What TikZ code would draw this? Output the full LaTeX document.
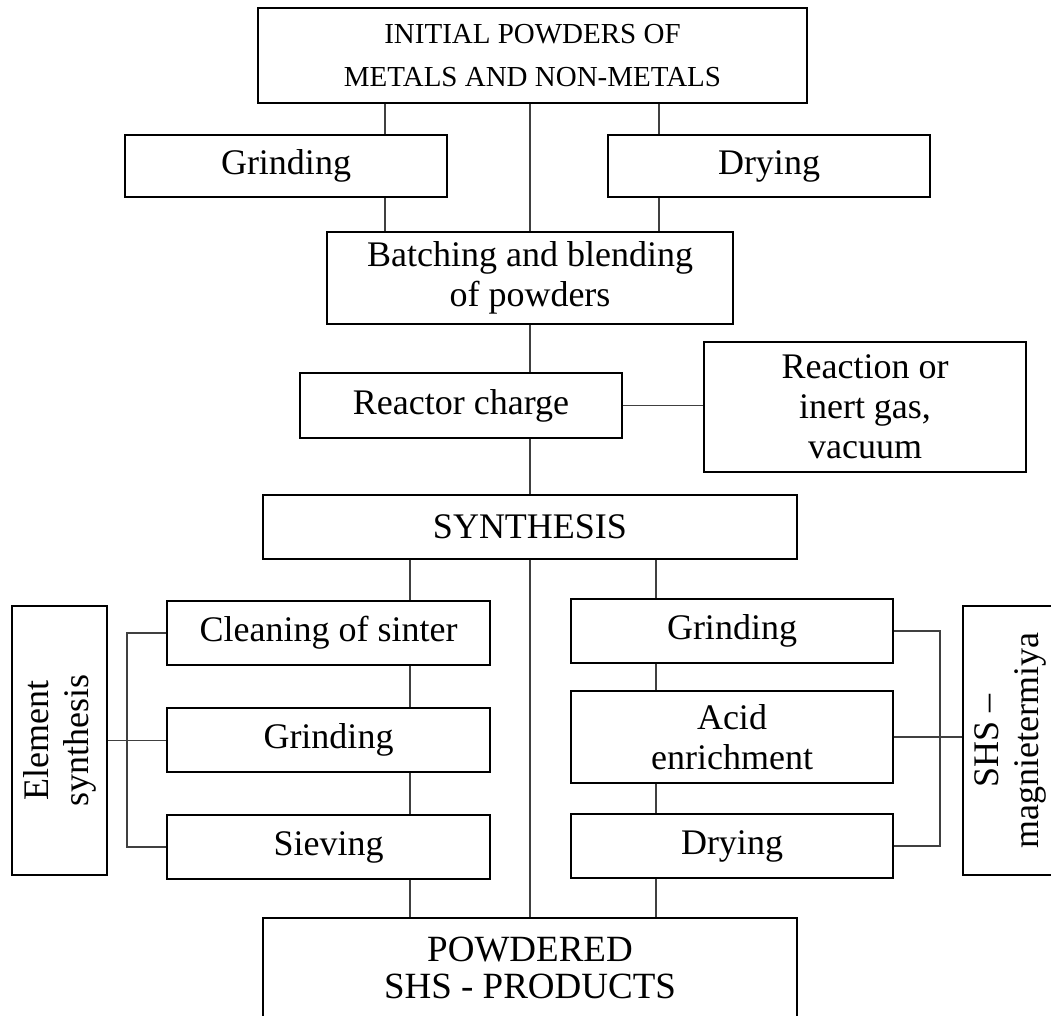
\documentclass[tikz,border=0pt]{standalone}
\usepackage{fontspec}
\setmainfont{Liberation Serif}
\usetikzlibrary{positioning}

\begin{document}
\begin{tikzpicture}[x=1pt,y=-1pt,
  box/.style={draw,line width=1.8pt,align=center,inner sep=2pt,font=\fontsize{36}{40}\selectfont,minimum width=322pt,minimum height=64pt},
  side/.style={box,rotate=90,minimum width=269pt,minimum height=95pt},
  link/.style={draw=black!75,line width=1.9pt}]
  \useasboundingbox (0,0) rectangle (1051,1015);
  \node[box,minimum width=549pt,minimum height=95pt,font=\fontsize{29}{43}\selectfont] (init) at (532.5,55.5) {INITIAL POWDERS OF\\METALS AND NON-METALS};
  \node[box,minimum height=62pt] (grindA) at (286,166) {Grinding};
  \node[box,minimum height=62pt] (dryA) at (769,166) {Drying};
  \node[box,minimum width=406pt,minimum height=92pt] (batch) at (530,278) {Batching and blending\\of powders};
  \node[box,minimum height=65pt] (reactor) at (461,405.5) {Reactor charge};
  \node[box,minimum height=130pt] (gas) at (865,407) {Reaction or\\inert gas,\\vacuum};
  \node[box,minimum width=534pt] (synth) at (530,527) {SYNTHESIS};
  \node[box,minimum width=323pt] (clean) at (328.5,633) {Cleaning of sinter};
  \node[box,minimum width=323pt] (grindL) at (328.5,740) {Grinding};
  \node[box,minimum width=323pt] (sieve) at (328.5,847) {Sieving};
  \node[box] (grindR) at (732,631) {Grinding};
  \node[box,minimum height=92pt] (acid) at (732,737) {Acid\\enrichment};
  \node[box] (dryR) at (732,846) {Drying};
  \node[side] (elem) at (59.5,740.5) {Element\\synthesis};
  \node[side] (shs) at (1010.5,740.5) {SHS –\\magnietermiya};
  \node[box,minimum width=534pt,minimum height=100pt,font=\fontsize{37}{37}\selectfont] (prod) at (530,968) {POWDERED\\SHS - PRODUCTS};
  \coordinate (xl) at (385,0);
  \coordinate (xr) at (659,0);
  \coordinate (xa) at (410,0);
  \coordinate (xb) at (656,0);
  \coordinate (bl) at (127,0);
  \coordinate (br) at (940,0);
  \draw[link] (init.south -| xl) -- (grindA.north -| xl);
  \draw[link] (grindA.south -| xl) -- (batch.north -| xl);
  \draw[link] (init.south -| xr) -- (dryA.north -| xr);
  \draw[link] (dryA.south -| xr) -- (batch.north -| xr);
  \draw[link] (init.south -| batch) -- (batch.north);
  \draw[link] (batch.south) -- (batch.south |- reactor.north);
  \draw[link] (reactor.south -| synth) -- (synth.north);
  \draw[link] (reactor.east) -- (reactor.east -| gas.west);
  \draw[link] (synth.south) -- (prod.north);
  \draw[link] (synth.south -| xa) -- (clean.north -| xa);
  \draw[link] (clean.south -| xa) -- (grindL.north -| xa);
  \draw[link] (grindL.south -| xa) -- (sieve.north -| xa);
  \draw[link] (sieve.south -| xa) -- (prod.north -| xa);
  \draw[link] (synth.south -| xb) -- (grindR.north -| xb);
  \draw[link] (grindR.south -| xb) -- (acid.north -| xb);
  \draw[link] (acid.south -| xb) -- (dryR.north -| xb);
  \draw[link] (dryR.south -| xb) -- (prod.north -| xb);
  \draw[link] (clean.west) -- (clean.west -| bl) -- (sieve.west -| bl) -- (sieve.west);
  \draw[link] (elem.south) -- (elem.south -| grindL.west);
  \draw[link] (grindR.east) -- (grindR.east -| br) -- (dryR.east -| br) -- (dryR.east);
  \draw[link] (acid.east) -- (acid.east -| shs.north);
\end{tikzpicture}
\end{document}
